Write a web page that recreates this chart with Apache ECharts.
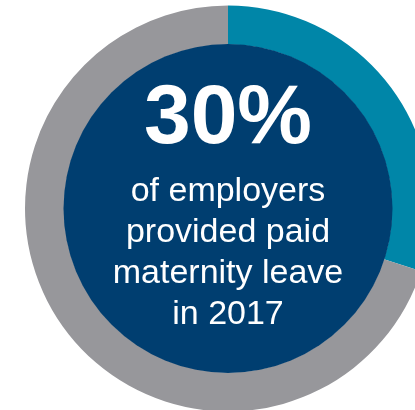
<!DOCTYPE html>
<html>
<head>
<meta charset="utf-8">
<style>
  html, body { margin: 0; padding: 0; background: #ffffff; }
  #chart { width: 415px; height: 410px; }
</style>
<script src="https://cdn.jsdelivr.net/npm/echarts@6/dist/echarts.min.js"></script>
</head>
<body>
<div id="chart"></div>
<script>
// Share of employers providing paid maternity leave
const categories = ['Provided paid maternity leave', 'Did not provide'];
const shares = [30, 70];
const captionLines = ['of employers', 'provided paid', 'maternity leave', 'in 2017'];

const chart = echarts.init(document.getElementById('chart'), null, { renderer: 'canvas' });

const CX = 228, CY = 208.5;
const font = '"Liberation Sans", Arial, sans-serif';

chart.setOption({
  animation: false,
  series: [
    {
      type: 'pie',
      center: [CX, CY],
      radius: [164, 203],
      startAngle: 90,
      clockwise: true,
      silent: true,
      label: { show: false },
      labelLine: { show: false },
      itemStyle: { borderWidth: 0 },
      data: categories.map((name, i) => ({
        name,
        value: shares[i],
        itemStyle: { color: i === 0 ? '#0086a8' : '#97979b' }
      }))
    },
    {
      type: 'pie',
      center: [CX, CY],
      radius: [0, 164.5],
      silent: true,
      label: { show: false },
      labelLine: { show: false },
      itemStyle: { color: '#003e70', borderWidth: 0 },
      data: [{ name: 'inner', value: 1 }]
    }
  ],
  graphic: {
    elements: [
      {
        type: 'text',
        x: CX, y: 120,
        z: 100,
        style: {
          text: shares[0] + '%',
          fill: '#ffffff',
          font: 'bold 84px ' + font,
          align: 'center',
          verticalAlign: 'middle'
        }
      },
      ...captionLines.map((line, i) => ({
        type: 'text',
        x: CX, y: 192 + i * 41,
        z: 100,
        style: {
          text: line,
          fill: '#ffffff',
          font: '34px ' + font,
          align: 'center',
          verticalAlign: 'middle'
        }
      }))
    ]
  }
});
</script>
</body>
</html>
